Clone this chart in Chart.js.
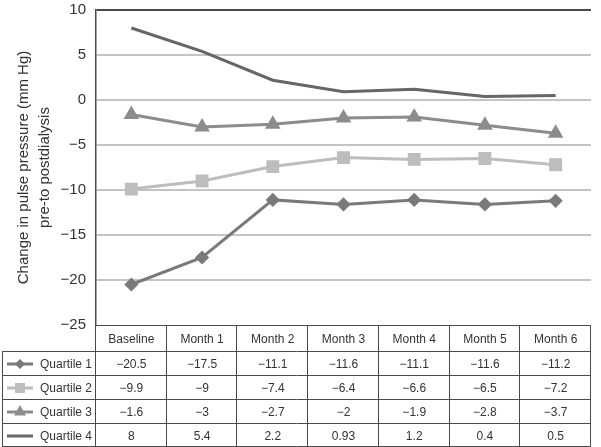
<!DOCTYPE html>
<html>
<head>
<meta charset="utf-8">
<script src="https://cdn.jsdelivr.net/npm/chart.js@4"></script>
<style>
  body { margin: 0; background: #fff; }
</style>
</head>
<body>
<canvas id="ppChart" width="601" height="447"></canvas>
<script>
// values
var months = ["Baseline", "Month 1", "Month 2", "Month 3", "Month 4", "Month 5", "Month 6"];
var quartile1 = [-20.5, -17.5, -11.1, -11.6, -11.1, -11.6, -11.2];
var quartile2 = [-9.9, -9, -7.4, -6.4, -6.6, -6.5, -7.2];
var quartile3 = [-1.6, -3, -2.7, -2, -1.9, -2.8, -3.7];
var quartile4 = [8, 5.4, 2.2, 0.93, 1.2, 0.4, 0.5];
var yTicks = [10, 5, 0, -5, -10, -15, -20, -25];

var FONT = "'Liberation Sans', Arial, sans-serif";

function fmt(v) {
    return String(v).replace("-", "\u2212");
}

// draws the data table (with legend keys) beneath the plot
var tablePlugin = {
    id: "dataTable",
    afterDraw: function (chart) {
        var ctx = chart.ctx;
        var x = chart.scales.x;
        var area = chart.chartArea;
        var half = (x.getPixelForValue(1) - x.getPixelForValue(0)) / 2;
        var top = area.bottom;
        var headH = 27, rowH = 24;
        var tableLeft = 2;
        var ds = chart.data.datasets;
        var bottom = top + headH + rowH * ds.length;

        ctx.save();
        ctx.strokeStyle = "#4a4a4a";
        ctx.lineWidth = 1;

        // horizontal lines
        ctx.beginPath();
        ctx.moveTo(area.left, top + 0.5);
        ctx.lineTo(area.right, top + 0.5);
        for (var r = 0; r <= ds.length; r++) {
            var y = Math.round(top + headH + r * rowH) - 0.5;
            if (r === ds.length) y = bottom - 1.5;
            ctx.moveTo(tableLeft, y);
            ctx.lineTo(area.right, y);
        }
        // vertical lines
        ctx.moveTo(tableLeft + 0.5, top + headH);
        ctx.lineTo(tableLeft + 0.5, bottom - 1);
        for (var i = 0; i <= months.length; i++) {
            var cx = i < months.length ? x.getPixelForValue(i) - half : x.getPixelForValue(months.length - 1) + half;
            cx = Math.round(cx) - 0.5;
            ctx.moveTo(cx, top);
            ctx.lineTo(cx, bottom - 1);
        }
        ctx.stroke();

        ctx.fillStyle = "#333";
        ctx.font = "12px " + FONT;
        ctx.textAlign = "center";
        ctx.textBaseline = "middle";
        months.forEach(function (m, i) {
            ctx.fillText(m, x.getPixelForValue(i), top + headH / 2 + 1);
        });

        ds.forEach(function (d, r) {
            var yc = top + headH + r * rowH + rowH / 2;
            // legend key
            ctx.strokeStyle = d.borderColor;
            ctx.lineWidth = 3;
            ctx.beginPath();
            ctx.moveTo(7, yc);
            ctx.lineTo(33, yc);
            ctx.stroke();
            if (d.pointRadius > 0) {
                Chart.helpers.drawPoint(ctx, {
                    pointStyle: d.pointStyle,
                    radius: d.pointRadius - 2,
                    borderWidth: 1
                }, 20, yc);
                ctx.fillStyle = d.pointBackgroundColor;
                ctx.fill();
            }
            ctx.fillStyle = "#333";
            ctx.textAlign = "left";
            ctx.fillText(d.label, 40, yc + 1);
            ctx.textAlign = "center";
            d.data.forEach(function (v, i) {
                ctx.fillText(fmt(v), x.getPixelForValue(i), yc + 1);
            });
        });
        ctx.restore();
    }
};

var ctx = document.getElementById("ppChart").getContext("2d");
var ppChart = new Chart(ctx, {
    type: "line",
    data: {
        labels: months,
        datasets: [{
            label: "Quartile 1",
            data: quartile1,
            borderColor: "#7a7a7a",
            backgroundColor: "#7a7a7a",
            pointBackgroundColor: "#7a7a7a",
            pointBorderColor: "#7a7a7a",
            pointStyle: "rectRot",
            pointRadius: 5,
            borderWidth: 3
        }, {
            label: "Quartile 2",
            data: quartile2,
            borderColor: "#bdbdbd",
            backgroundColor: "#bdbdbd",
            pointBackgroundColor: "#bdbdbd",
            pointBorderColor: "#bdbdbd",
            pointStyle: "rect",
            pointRadius: 7,
            borderWidth: 3
        }, {
            label: "Quartile 3",
            data: quartile3,
            borderColor: "#8c8c8c",
            backgroundColor: "#8c8c8c",
            pointBackgroundColor: "#8c8c8c",
            pointBorderColor: "#8c8c8c",
            pointStyle: "triangle",
            pointRadius: 6,
            borderWidth: 3
        }, {
            label: "Quartile 4",
            data: quartile4,
            borderColor: "#666666",
            backgroundColor: "#666666",
            pointBackgroundColor: "#666666",
            pointRadius: 0,
            borderWidth: 3
        }]
    },
    options: {
        responsive: false,
        animation: false,
        layout: { padding: { top: 7, right: 4, bottom: 122, left: 14 } },
        plugins: {
            legend: { display: false },
            tooltip: { enabled: false }
        },
        scales: {
            x: {
                display: false,
                offset: true
            },
            y: {
                min: -25,
                max: 10,
                afterBuildTicks: function (scale) {
                    scale.ticks = yTicks.map(function (v) { return { value: v }; });
                },
                afterFit: function (scale) {
                    scale.width = 82;
                    scale.paddingTop = 0;
                    scale.paddingBottom = 0;
                },
                border: { color: "#4a4a4a", width: 1.5 },
                grid: {
                    drawTicks: false,
                    lineWidth: 2,
                    color: function (c) {
                        return c.tick && c.tick.value === 10 ? "#4a4a4a" : (c.tick && c.tick.value === -25 ? "rgba(0,0,0,0)" : "#c4c4c4");
                    }
                },
                ticks: {
                    padding: 10,
                    color: "#333",
                    font: { family: FONT, size: 15 },
                    callback: function (v) { return fmt(v); }
                },
                title: {
                    display: true,
                    text: ["Change in pulse pressure (mm Hg)", "pre-to postdialysis"],
                    color: "#333",
                    font: { family: FONT, size: 15, lineHeight: 1.35 },
                    padding: { top: 0, bottom: 0 }
                }
            }
        }
    },
    plugins: [tablePlugin]
});
</script>
</body>
</html>
